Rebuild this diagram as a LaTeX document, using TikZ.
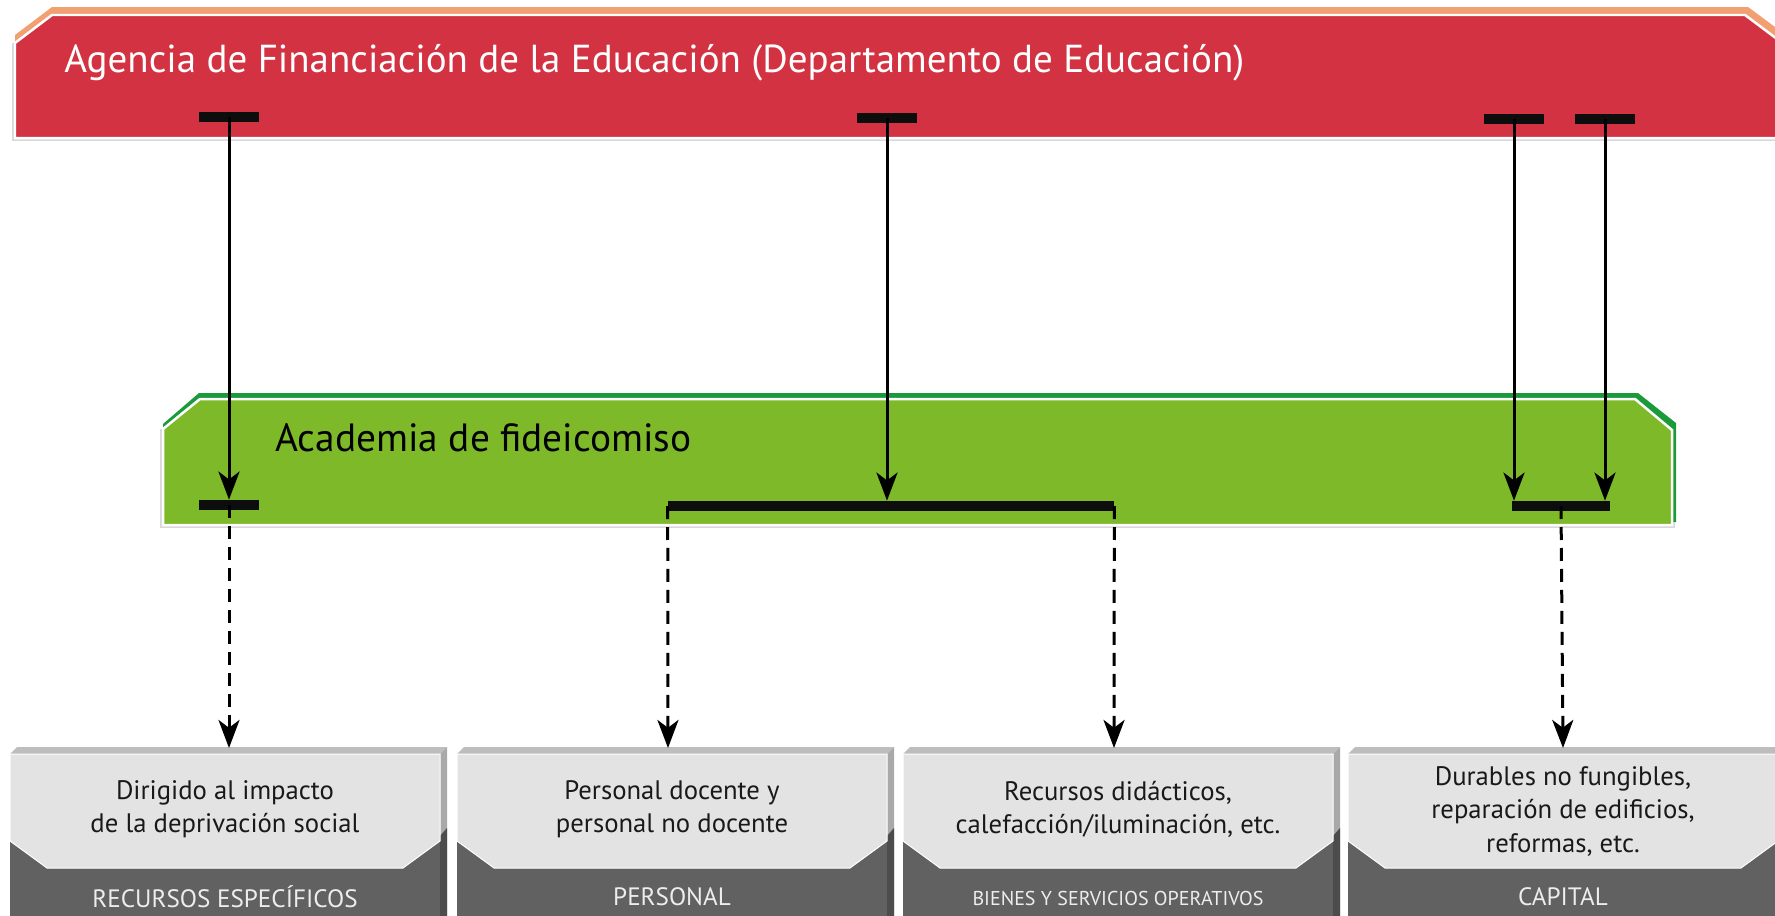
\documentclass[tikz,border=0pt]{standalone}
\usepackage{fontspec}
\setmainfont{PT Sans}
\usetikzlibrary{arrows.meta}
\definecolor{rojo}{HTML}{D23241}
\definecolor{naranja}{HTML}{F2A072}
\definecolor{verde}{HTML}{7DB928}
\definecolor{verdeosc}{HTML}{1B9A3C}
\definecolor{grisclaro}{HTML}{E3E3E3}
\definecolor{grismedio}{HTML}{BDBDBD}
\definecolor{grislado}{HTML}{A9A9A9}
\definecolor{grisosc}{HTML}{616161}
\definecolor{grisbase}{HTML}{4C4C4C}
\begin{document}
\begin{tikzpicture}[x=0.02cm, y=-0.02cm,
    barra/.style = {fill=black!95, inner sep=0pt, minimum height=0.2cm},
    flujo/.style = {line width=0.06cm, -{Stealth[length=16pt, width=12pt, inset=4.5pt]}},
    flujodis/.style = {flujo, dash pattern=on 0.26cm off 0.16cm},
    textocaja/.style = {align=center, text=black!90, font=\fontsize{15.2}{18.8}\selectfont},
    rotulo/.style = {text=white!93!black, font=\fontsize{14.3}{16}\selectfont}]
  \useasboundingbox (0,0) rectangle (1775,916);
  \clip (0,0) rectangle (1775,916);

  % banda roja
  \draw[gray!30, line width=0.04cm] (13,43) -- (13,140) -- (1790,140);
  \fill[naranja] (15,35) -- (52,7) -- (1748,7) -- (1790,38) -- (1790,130) -- (15,130) -- cycle;
  \filldraw[rojo, draw=white, line width=0.05cm] (15,43) -- (52,15) -- (1745,15) -- (1785,45) -- (1785,138) -- (15,138) -- cycle;
  \node[text=white, anchor=base west, inner sep=0pt, font=\fontsize{22.2}{26}\selectfont] (agencia) at (64,72)
    {Agencia de Financiación de la Educación (Departamento de Educación)};

  % banda verde
  \draw[gray!30, line width=0.04cm] (161,429) -- (161,527) -- (1674,527) -- (1674,430);
  \fill[verdeosc] (163,424) -- (199,393) -- (1638,393) -- (1676,423) -- (1676,522) -- (1600,522) -- (1600,440) -- (163,440) -- cycle;
  \filldraw[verde, draw=white, line width=0.05cm] (163,429) -- (200,399) -- (1635,399) -- (1672,430) -- (1672,525) -- (163,525) -- cycle;
  \node[anchor=base west, inner sep=0pt, font=\fontsize{22.4}{26}\selectfont] (academia) at (275,451) {Academia de fideicomiso};

  % cajas inferiores
  \foreach \xa in {10,457,903,1348} {
    \pgfmathsetmacro\xb{\xa+430}
    \fill[grismedio] (\xa,754) -- (\xa+7,747) -- (\xb+7,747) -- (\xb,754) -- cycle;
    \fill[grislado] (\xb,754) -- (\xb+7,747) -- (\xb+7,916) -- (\xb,916) -- cycle;
    \fill[grisbase] (\xb,836) -- (\xb+7,828) -- (\xb+7,916) -- (\xb,916) -- cycle;
    \fill[grisosc] (\xa,754) rectangle (\xb,916);
    \filldraw[grisclaro, draw=white, line width=0.02cm] (\xa,754) -- (\xb,754) -- (\xb,841) -- (\xb-37,868) -- (\xa+37,868) -- (\xa,841) -- cycle;
  }
  \node[textocaja] (t1) at (225,809.5) {Dirigido al impacto\\de la deprivación social};
  \node[textocaja] (t2) at (672,809.5) {Personal docente y\\personal no docente};
  \node[textocaja] (t3) at (1118,809.5) {Recursos didácticos,\\calefacción/iluminación, etc.};
  \node[textocaja] (t4) at (1563,811.5) {Durables no fungibles,\\reparación de edificios,\\reformas, etc.};
  \node[rotulo] (e1) at (225,897) {RECURSOS ESPECÍFICOS};
  \node[rotulo] (e2) at (672,897) {PERSONAL};
  \node[rotulo, font=\fontsize{11.4}{13}\selectfont] (e3) at (1118,898) {BIENES Y SERVICIOS OPERATIVOS};
  \node[rotulo] (e4) at (1563,897) {CAPITAL};
  \coordinate (c1) at (229,748);
  \coordinate (c2) at (668,748);
  \coordinate (c3) at (1114,748);
  \coordinate (c4) at (1563,748);

  % barras
  \node[barra, minimum width=1.2cm] (r1) at (229,117) {};
  \node[barra, minimum width=1.2cm] (r2) at (887,118) {};
  \node[barra, minimum width=1.2cm] (r3) at (1514,119) {};
  \node[barra, minimum width=1.2cm] (r4) at (1605,119) {};
  \node[barra, minimum width=1.2cm] (v1) at (229,505) {};
  \node[barra, minimum width=8.92cm] (v2) at (891,506) {};
  \node[barra, minimum width=1.96cm] (v3) at (1561,506) {};

  % flechas
  \draw[flujo] (r1.center) -- (v1.north);
  \draw[flujo] (r2.center) -- (r2.center |- v2.north);
  \draw[flujo] (r3.center) -- (r3.center |- v3.north);
  \draw[flujo] (r4.center) -- (r4.center |- v3.north);
  \draw[flujodis] (v1.center) -- (c1);
  \draw[flujodis] (v2.west) -- (c2);
  \draw[flujodis] (v2.east) -- (c3);
  \draw[flujodis] (v3.center) -- (c4);
\end{tikzpicture}
\end{document}
